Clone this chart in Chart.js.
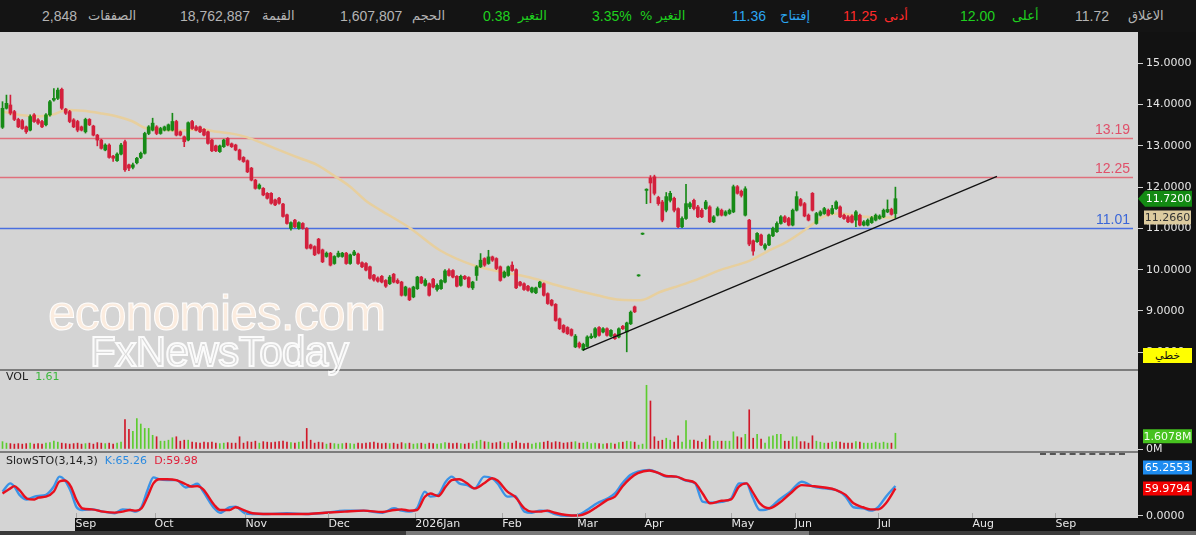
<!DOCTYPE html>
<html><head><meta charset="utf-8">
<script src="https://cdn.jsdelivr.net/npm/chart.js@4.4.1/dist/chart.umd.min.js"></script>
<style>
html,body{margin:0;padding:0;}
body{width:1196px;height:535px;overflow:hidden;position:relative;background:#121212;font-family:"Liberation Sans","DejaVu Sans",sans-serif;}
#hdr{position:absolute;left:0;top:0;width:1196px;height:32px;background:#141414;}
#hdr span{position:absolute;top:8px;font-size:14px;white-space:nowrap;line-height:16px;}
#hdr span.ar{font-size:13px;font-family:"DejaVu Sans",sans-serif;top:8px;}
.g{color:#1fd01f}.r{color:#ff2a2a}.b{color:#2ba6f2}.w{color:#b4b4b4}
canvas{position:absolute;left:0;}
.sep{position:absolute;left:0;width:1138px;height:2px;background:#7c7c7c;}
.lbl{position:absolute;left:6px;font:11px "DejaVu Sans",sans-serif;color:#222;white-space:nowrap;}
#wm1{position:absolute;left:48px;top:284px;font:50px "Liberation Sans",sans-serif;color:rgba(255,238,224,0.9);-webkit-text-stroke:1px rgba(255,255,255,0.95);letter-spacing:-1px;white-space:nowrap;}
#wm2{position:absolute;left:90px;top:328px;font:42px "Liberation Sans",sans-serif;color:rgba(255,255,255,0.12);-webkit-text-stroke:2px rgba(255,255,255,0.9);letter-spacing:-0.5px;white-space:nowrap;}
#btn{position:absolute;left:1143px;top:348px;width:49px;height:15px;background:#ffff00;color:#111;font:11px "DejaVu Sans",sans-serif;text-align:center;line-height:15px;}
#dash{position:absolute;left:1040px;top:453px;width:85px;height:0;border-top:2px dashed #555;}
#bot{position:absolute;left:0;top:531px;width:1196px;height:4px;background:#3a3a3a;}
#thumb{position:absolute;left:406px;top:531px;width:403px;height:4px;background:#7a7a7a;}
#thumb2{position:absolute;left:1080px;top:531px;width:116px;height:4px;background:#6a6a6a;}
</style></head><body>
<div id="hdr">
<span class="w" style="left:42px">2,848</span>
<span class="w ar" style="left:88px" dir="rtl">الصفقات</span>
<span class="w" style="left:180px">18,762,887</span>
<span class="w ar" style="left:262px" dir="rtl">القيمة</span>
<span class="w" style="left:340px">1,607,807</span>
<span class="w ar" style="left:412px" dir="rtl">الحجم</span>
<span class="g" style="left:483px">0.38</span>
<span class="g ar" style="left:518px" dir="rtl">التغير</span>
<span class="g" style="left:592px">3.35%</span>
<span class="g ar" style="left:640px" dir="rtl">التغير %</span>
<span class="b" style="left:732px">11.36</span>
<span class="b ar" style="left:780px" dir="rtl">إفتتاح</span>
<span class="r" style="left:843px">11.25</span>
<span class="r ar" style="left:884px" dir="rtl">أدنى</span>
<span class="g" style="left:960px">12.00</span>
<span class="g ar" style="left:1012px" dir="rtl">أعلى</span>
<span class="w" style="left:1075px">11.72</span>
<span class="w ar" style="left:1128px" dir="rtl">الاغلاق</span>
</div>
<canvas id="cPrice" width="1196" height="338" style="top:32px"></canvas>
<canvas id="cVol" width="1196" height="82" style="top:370px"></canvas>
<canvas id="cSto" width="1196" height="79" style="top:452px"></canvas>
<div class="sep" style="top:369px"></div>
<div class="sep" style="top:451px"></div>
<div class="lbl" style="top:370px">VOL&nbsp;&nbsp;<span style="color:#3cb83c">1.61</span></div>
<div class="lbl" style="top:454px">SlowSTO(3,14,3)&nbsp;&nbsp;<span style="color:#2a8ae0">K:65.26</span>&nbsp;&nbsp;<span style="color:#e0203a">D:59.98</span></div>
<div id="wm1">economies.com</div>
<div id="wm2">FxNewsToday</div>
<div id="btn">خطي</div>
<div id="dash"></div>
<div id="bot"></div><div id="thumb"></div><div id="thumb2"></div>
<script>
// ---------------- data ----------------
const open = [13.45,13.91,13.99,13.83,13.64,13.61,13.46,13.38,13.75,13.63,13.59,13.51,13.75,14.11,14.15,14.37,13.89,13.83,13.63,13.59,13.46,13.34,13.64,13.48,13.26,13.14,12.90,13.02,12.75,12.64,12.80,13.10,12.54,12.48,12.59,12.72,12.82,13.30,13.38,13.46,13.30,13.38,13.38,13.38,13.59,13.34,13.22,13.14,13.59,13.46,13.46,13.40,13.34,13.14,13.00,12.86,12.98,13.18,13.05,13.02,12.90,12.72,12.64,12.46,12.17,11.97,11.97,11.85,11.85,11.69,11.73,11.59,11.33,11.00,11.20,11.00,11.12,11.00,10.60,10.56,10.74,10.48,10.32,10.40,10.15,10.32,10.32,10.40,10.15,10.36,10.38,10.17,10.15,10.07,9.87,9.80,9.84,9.74,9.66,9.89,9.74,9.70,9.38,9.54,9.34,9.54,9.82,9.62,9.66,9.77,9.52,9.54,9.70,9.98,9.98,9.84,9.62,9.84,9.81,9.56,9.86,10.07,10.27,10.15,10.31,10.27,10.07,9.82,9.86,10.11,10.00,9.70,9.66,9.60,9.46,9.44,9.58,9.66,9.42,9.26,9.16,8.81,8.65,8.60,8.55,8.13,8.22,8.06,8.14,8.35,8.37,8.60,8.49,8.57,8.39,8.43,8.37,8.63,8.49,8.69,9.10,9.85,10.86,11.92,12.22,12.25,11.75,11.64,11.44,11.68,11.73,11.48,11.04,11.24,11.52,11.68,11.52,11.44,11.48,11.52,11.16,11.32,11.44,11.32,11.36,11.40,12.01,11.90,11.32,11.20,10.70,10.68,10.84,10.52,10.60,10.82,10.92,11.12,11.28,11.24,11.08,11.44,11.70,11.60,11.32,11.85,11.12,11.32,11.36,11.44,11.36,11.48,11.52,11.32,11.28,11.30,11.20,11.32,11.08,11.08,11.14,11.20,11.24,11.28,11.40,11.46,11.36];
const high = [14.07,14.23,14.23,13.86,13.67,13.64,13.48,13.75,13.78,13.66,13.62,13.78,14.10,14.39,14.40,14.40,13.91,13.86,13.66,13.62,13.48,13.67,13.66,13.50,13.28,13.16,13.05,13.05,12.77,12.83,13.06,13.14,12.56,12.58,12.72,12.85,13.33,13.49,13.67,13.49,13.45,13.48,13.53,13.79,13.62,13.36,13.24,13.58,13.62,13.49,13.48,13.42,13.36,13.16,13.02,13.02,13.16,13.20,13.07,13.04,12.92,12.74,12.66,12.48,12.19,12.08,11.99,11.87,11.87,11.71,11.75,11.61,11.35,11.16,11.22,11.16,11.14,11.02,10.62,10.58,10.76,10.50,10.43,10.42,10.34,10.45,10.42,10.42,10.38,10.47,10.40,10.19,10.17,10.09,9.89,9.83,9.86,9.76,9.86,9.91,9.78,9.72,9.60,9.56,9.60,9.84,9.84,9.78,9.68,9.79,9.66,9.76,10.00,10.02,10.00,9.86,9.87,9.86,9.83,9.72,10.10,10.39,10.29,10.47,10.33,10.29,10.09,9.97,10.09,10.19,10.02,9.72,9.68,9.62,9.58,9.58,9.72,9.68,9.44,9.28,9.18,8.83,8.67,8.62,8.57,8.43,8.25,8.22,8.40,8.45,8.60,8.62,8.60,8.59,8.55,8.45,8.59,8.65,8.73,9.00,9.12,9.88,10.89,11.96,12.28,12.29,11.78,11.68,11.87,11.90,11.76,11.50,11.28,12.07,11.64,11.71,11.56,11.48,11.68,11.55,11.31,11.52,11.47,11.43,11.47,12.05,12.04,11.93,12.01,11.22,10.72,10.90,10.86,10.63,10.86,11.03,11.16,11.31,11.31,11.27,11.47,11.89,11.73,11.63,11.35,11.87,11.39,11.43,11.51,11.47,11.56,11.67,11.55,11.35,11.31,11.33,11.43,11.35,11.19,11.23,11.29,11.35,11.33,11.47,11.69,11.49,12.00];
const low = [13.42,13.89,13.75,13.61,13.44,13.40,13.30,13.36,13.57,13.52,13.44,13.48,13.72,14.08,14.12,13.88,13.76,13.56,13.44,13.34,13.36,13.31,13.49,13.24,13.00,12.92,12.88,12.70,12.62,12.62,12.78,12.38,12.40,12.44,12.56,12.69,12.80,13.27,13.36,13.27,13.28,13.36,13.36,13.36,13.24,13.24,12.98,13.12,13.40,13.36,13.32,13.24,13.04,12.86,12.86,12.84,12.96,13.00,12.96,12.88,12.65,12.60,12.35,12.15,11.95,11.95,11.79,11.71,11.59,11.55,11.59,11.27,11.10,10.96,11.02,10.98,10.98,10.50,10.50,10.34,10.38,10.17,10.30,10.09,10.13,10.30,10.30,10.13,10.13,10.34,10.13,10.05,9.97,9.77,9.72,9.70,9.68,9.57,9.64,9.68,9.66,9.36,9.36,9.25,9.32,9.52,9.66,9.60,9.36,9.56,9.48,9.52,9.68,9.84,9.80,9.58,9.60,9.76,9.56,9.52,9.74,10.05,10.08,10.13,10.20,10.00,9.72,9.80,9.84,9.96,9.54,9.60,9.50,9.48,9.44,9.42,9.56,9.36,9.16,9.12,8.75,8.55,8.47,8.43,8.39,8.11,8.10,8.04,8.12,8.33,8.35,8.39,8.47,8.39,8.37,8.31,8.35,8.55,8.01,8.67,8.96,9.84,10.85,11.60,11.62,11.81,11.56,11.16,11.40,11.64,11.40,11.02,11.02,11.22,11.48,11.45,11.26,11.26,11.46,11.14,11.14,11.30,11.30,11.30,11.34,11.38,11.83,11.76,11.30,10.58,10.35,10.66,10.58,10.48,10.58,10.80,10.90,11.10,11.14,11.06,11.06,11.42,11.54,11.28,11.18,11.42,11.10,11.30,11.34,11.30,11.34,11.46,11.26,11.22,11.14,11.13,11.04,11.06,11.06,11.06,11.12,11.18,11.22,11.26,11.38,11.32,11.25];
const close = [13.91,14.03,13.79,13.64,13.46,13.42,13.34,13.71,13.59,13.55,13.46,13.75,14.07,14.15,14.35,13.91,13.79,13.59,13.46,13.38,13.38,13.64,13.51,13.26,13.14,12.94,13.02,12.72,12.70,12.80,13.02,12.42,12.46,12.54,12.70,12.82,13.30,13.46,13.55,13.30,13.42,13.46,13.51,13.59,13.26,13.26,13.10,13.56,13.42,13.38,13.34,13.26,13.06,12.88,12.88,13.00,13.14,13.02,12.98,12.90,12.67,12.62,12.37,12.17,11.97,12.05,11.81,11.73,11.61,11.57,11.61,11.29,11.12,11.14,11.04,11.14,11.00,10.52,10.52,10.36,10.40,10.19,10.40,10.11,10.32,10.40,10.40,10.15,10.36,10.43,10.15,10.07,9.99,9.79,9.75,9.72,9.70,9.60,9.82,9.70,9.68,9.38,9.58,9.27,9.58,9.82,9.68,9.74,9.38,9.58,9.62,9.74,9.97,9.86,9.82,9.60,9.84,9.78,9.58,9.70,10.07,10.23,10.11,10.31,10.23,10.03,9.74,9.94,10.07,9.98,9.56,9.62,9.52,9.50,9.56,9.56,9.70,9.38,9.18,9.14,8.77,8.57,8.49,8.45,8.41,8.39,8.13,8.19,8.37,8.39,8.57,8.41,8.57,8.41,8.53,8.33,8.57,8.57,8.71,8.97,8.98,9.87,10.88,11.95,12.10,11.85,11.60,11.20,11.77,11.85,11.44,11.04,11.24,11.60,11.60,11.48,11.28,11.28,11.64,11.16,11.28,11.48,11.32,11.40,11.44,12.01,11.85,11.80,11.96,10.62,10.45,10.88,10.60,10.60,10.84,11.00,11.12,11.28,11.16,11.08,11.44,11.77,11.56,11.30,11.20,11.44,11.36,11.40,11.48,11.32,11.48,11.64,11.28,11.24,11.16,11.15,11.40,11.08,11.16,11.20,11.26,11.32,11.30,11.44,11.46,11.34,11.72];
const volume = [0.75,0.6,0.55,0.5,0.55,0.5,0.55,0.6,0.5,0.55,0.5,0.6,0.65,0.8,0.7,0.6,0.55,0.5,0.55,0.6,0.5,0.55,0.6,0.5,0.65,0.6,0.55,0.6,0.5,0.6,0.7,
 3.0,2.0,1.8,3.1,2.55,2.1,2.1,1.4,1.25,0.8,0.8,0.9,1.15,1.25,0.8,0.9,0.9,
 0.7,0.65,0.6,0.7,0.65,0.7,0.6,0.55,0.6,0.65,0.6,0.6,1.25,
 0.6,0.75,0.7,0.8,0.6,0.75,0.7,0.65,0.7,0.75,0.8,0.7,0.65,0.6,0.7,0.75,2.1,0.9,
 0.6,0.7,0.65,0.5,0.6,0.55,0.5,0.55,0.6,0.55,0.5,0.6,0.55,0.6,0.65,0.7,0.6,0.55,0.6,0.55,0.6,0.5,0.65,0.55,0.6,0.5,0.55,0.6,0.5,0.6,0.55,0.5,0.55,0.65,0.6,0.55,0.6,0.55,0.5,0.6,0.55,0.8,0.9,0.75,0.7,0.6,0.65,0.75,0.6,0.65,0.6,0.8,0.6,0.55,0.6,0.5,0.6,0.65,0.7,0.8,0.65,0.75,0.7,0.6,0.65,0.7,0.75,0.6,0.6,0.7,0.55,0.6,0.55,0.5,0.55,0.6,0.5,0.65,0.7,0.8,0.75,0.7,0.4,0.5,
 6.5,4.9,1.25,0.8,0.9,1.1,0.9,0.7,1.35,0.7,2.9,0.9,0.9,0.8,0.7,1.0,1.35,0.8,0.8,0.8,0.8,0.8,1.75,1.25,1.15,1.5,4.0,1.1,1.5,1.0,0.6,1.25,1.35,1.5,1.5,0.8,0.8,1.25,1.25,0.75,0.75,0.6,1.35,0.8,0.7,0.6,0.6,0.7,0.75,0.7,0.6,0.6,0.6,0.75,0.7,0.6,0.6,0.6,0.7,0.6,0.7,0.6,0.6,1.6078];
const maIdx = [0,4.4,9.5,12.8,16.3,20.4,24.7,29,33,36.5,40,43.2,46.7,50,54.3,58.4,61.8,66.9,71,75.3,79.6,83.7,88,92.2,95.5,103.1,110.7,119.1,125.1,133.5,141.9,150.5,156.3,161.4,166.4,171.5,176.5,181.6,189.2,193.5,198.6,203.6,207.7,212,216.3,220.3,226];
const maVal = [13.83,13.75,13.72,13.76,13.87,13.85,13.79,13.71,13.59,13.42,13.40,13.37,13.38,13.40,13.34,13.29,13.21,13.02,12.86,12.70,12.54,12.29,12.01,11.65,11.45,11.01,10.47,10.11,9.97,9.81,9.58,9.38,9.27,9.26,9.46,9.62,9.79,9.99,10.22,10.44,10.68,11.00,11.28,11.36,11.30,11.27,11.266];
const stIdx = [0,2,3,4.3,6.2,8.1,9.1,11,13,14.4,15.8,17.3,18.7,20.2,22.6,25.5,28.4,30.4,32.3,33.8,35.2,36.7,38.2,39.6,41.6,44,46.4,47.8,49.3,50.8,53.6,55.1,57.5,59,61.4,63.3,67.2,72,76.8,81.7,86.6,91.4,96.2,99.1,101,103,104.9,106.9,108.3,110.3,112.2,113.7,115.6,117.6,119.5,121.9,123.9,125.3,127.8,129.7,132.1,134,136,137.9,139.8,142.7,145.6,148.6,150.5,153.1,155,156.9,158.9,160.8,163.7,166.1,168,170.5,172.9,175.3,177.2,179.1,182,184.4,186.4,188.3,189.8,191.7,194.1,196.5,199.4,202.3,205.2,208.1,211,213.4,215.4,217.8,219.7,221.7,223.6,226];
const stK = [53,71,64,46,36,42,43.5,46,64,85.5,77,53,20,13,14.5,9.5,6,14.5,13,9.5,20,56,84,80,78,78,62,65,70,53,16.7,7,19,20,6,4.4,4.4,6,4.4,7,11.6,11.6,7,16.7,11.6,9.5,16.7,53,42,46,74.5,85.5,71,67,60,85.5,82,71,42,43.5,9.5,7,11.6,10.9,4.4,0.5,2,16.7,27.6,38,49,71,89,96.4,100,93,85.5,85.5,77,71,31,29,31,38,71,71,42,13,16.7,34.8,53,74.5,64,60,56.5,42,19,16.7,11.6,20,42,65.26];
const stD = [49,60,65,56,38,36,40,42,53,75,77,64,35,16.7,14.5,9.5,7.3,9.5,13,11.6,16.7,42,71,80,80,78,69,64,65,58,24,13,13,19,11.6,6,4.4,4.4,4.4,7,9.5,11.6,8.7,13,14.5,11.6,13,42,49,43.5,64,78,80,71,60,71,82,77,53,42,16.7,9.5,9.5,11.6,7,2.2,1,9.5,20,35,42,64,82,93,99,93,87,85.5,78,72,49,27.6,33,36,64,71,53,27.6,16.7,27.6,49,67,65,62,56.5,46,27.6,19,14.5,14.5,27.6,59.98];
const levels = [13.19, 12.25, 11.01];
const trendIdx = [146.9, 251.7];
const trendVal = [8.05, 12.26];
const priceTicks = [8,9,10,11,12,13,14,15];
const monthTicks = [18.5,38.5,61.5,82.5,104.5,126.5,145.5,162.5,184.5,200.5,221.5,245.5,266.5];
const monthLabels = ['Sep','Oct','Nov','Dec','2026Jan','Feb','Mar','Apr','May','Jun','Jul','Aug','Sep'];
const maLast = 11.266;

// ---------------- helpers ----------------
const X_MIN = -0.633, X_MAX = 287.4;
const UP = '#178a17', DN = '#d3203c';
const VUP = '#5ccc2e', VDN = '#d01828';
const idx = close.map((_, i) => i);
const isUp = i => close[i] >= open[i];
const AXW = 58;
const FONT = '"DejaVu Sans", sans-serif';

function fitY(s){ s.width = AXW; s.paddingTop = 0; s.paddingBottom = 0; }
function fitXHidden(s){ s.height = 0; s.paddingLeft = 0; s.paddingRight = 0; }

const bgPlugin = {
  id: 'bg',
  beforeDraw(chart, args, opts){
    const {ctx, chartArea: a, width, height} = chart;
    ctx.save();
    ctx.fillStyle = '#121212';
    ctx.fillRect(0, 0, width, height);
    ctx.fillStyle = '#d4d4d4';
    ctx.fillRect(a.left, a.top, a.right - a.left, a.bottom - a.top);
    if (opts && opts.leftGap) ctx.fillRect(0, a.bottom, opts.leftGap, height - a.bottom);
    ctx.restore();
  }
};

function tag(ctx, x, y, w, text, bg, fg, arrow){
  ctx.save();
  ctx.fillStyle = bg;
  ctx.beginPath();
  if (arrow){
    ctx.moveTo(x - 3, y); ctx.lineTo(x + 4, y - 8); ctx.lineTo(x + w, y - 8);
    ctx.lineTo(x + w, y + 8); ctx.lineTo(x + 4, y + 8); ctx.closePath();
  } else {
    ctx.rect(x, y - 7, w, 14);
  }
  ctx.fill();
  ctx.fillStyle = fg;
  ctx.font = '11px ' + FONT;
  ctx.textAlign = 'center'; ctx.textBaseline = 'middle';
  ctx.fillText(text, x + w / 2 + (arrow ? 2 : 0), y + 0.5);
  ctx.restore();
}

const levelPlugin = {
  id: 'levels',
  beforeDatasetsDraw(chart){
    const {ctx, chartArea: a, scales: {y}} = chart;
    const lineCol = ['#e0707c', '#e0707c', '#4a6fe0'];
    const txtCol = ['#e0506a', '#e0506a', '#3a66d8'];
    ctx.save();
    levels.forEach((lv, k) => {
      const py = Math.round(y.getPixelForValue(lv)) + 0.5;
      ctx.strokeStyle = lineCol[k]; ctx.lineWidth = 1.3;
      ctx.beginPath(); ctx.moveTo(a.left, py); ctx.lineTo(a.right - 5, py); ctx.stroke();
      ctx.fillStyle = txtCol[k];
      ctx.font = '14px "Liberation Sans", sans-serif';
      ctx.textAlign = 'right'; ctx.textBaseline = 'alphabetic';
      ctx.fillText(lv.toFixed(2), a.right - 8, py - 5);
    });
    ctx.restore();
  },
  afterDraw(chart){
    const {ctx, chartArea: a, scales: {y}} = chart;
    const last = close[close.length - 1];
    tag(ctx, a.right + 3, y.getPixelForValue(last), 51, last.toFixed(4), '#138a13', '#ffffff', true);
    tag(ctx, a.right + 6, y.getPixelForValue(maLast), 47, maLast.toFixed(4), '#dccb9f', '#333333', false);
  }
};

// ---------------- price chart ----------------
new Chart(document.getElementById('cPrice'), {
  type: 'bar',
  data: { datasets: [
    { type: 'line', label: 'MA', data: maIdx.map((x, k) => ({x, y: maVal[k]})),
      borderColor: '#e7cf9e', borderWidth: 2.5, pointRadius: 0, cubicInterpolationMode: 'monotone', order: 3 },
    { label: 'wick', data: idx.map(i => ({x: i, y: [low[i], high[i]]})),
      backgroundColor: c => isUp(c.dataIndex) ? UP : DN, barThickness: 1, grouped: false, order: 2, borderWidth: 0 },
    { label: 'body', data: idx.map(i => ({x: i, y: [Math.min(open[i], close[i]), Math.max(open[i], close[i])]})),
      backgroundColor: c => isUp(c.dataIndex) ? UP : DN, barThickness: 3, grouped: false, minBarLength: 1, order: 1, borderWidth: 0 },
    { type: 'line', label: 'trend', data: trendIdx.map((x, k) => ({x, y: trendVal[k]})),
      borderColor: '#111111', borderWidth: 1.3, pointRadius: 0, order: 0 }
  ]},
  options: {
    responsive: false, animation: false, events: [],
    layout: { padding: 0 },
    plugins: { legend: { display: false }, tooltip: { enabled: false } },
    scales: {
      x: { type: 'linear', min: X_MIN, max: X_MAX, offset: false, display: false, afterFit: fitXHidden },
      y: { type: 'linear', position: 'right', min: 7.570, max: 15.758,
        afterBuildTicks: s => { s.ticks = priceTicks.map(v => ({value: v})); },
        afterFit: fitY,
        ticks: { callback: v => Number(v).toFixed(4), color: '#e6e6e6', font: { family: 'DejaVu Sans', size: 11 }, padding: 3, autoSkip: false },
        grid: { drawOnChartArea: false, drawTicks: true, tickLength: 5, color: '#d0d0d0' },
        border: { display: false } }
    }
  },
  plugins: [bgPlugin, levelPlugin]
});

// ---------------- volume chart ----------------
new Chart(document.getElementById('cVol'), {
  type: 'bar',
  data: { datasets: [
    { label: 'VOL', data: idx.map(i => ({x: i, y: volume[i]})),
      backgroundColor: c => isUp(c.dataIndex) ? VUP : VDN, barThickness: 1, grouped: false, borderWidth: 0 }
  ]},
  options: {
    responsive: false, animation: false, events: [],
    layout: { padding: 0 },
    plugins: { legend: { display: false }, tooltip: { enabled: false } },
    scales: {
      x: { type: 'linear', min: X_MIN, max: X_MAX, offset: false, display: false, afterFit: fitXHidden },
      y: { type: 'linear', position: 'right', min: -0.306, max: 8.06,
        afterBuildTicks: s => { s.ticks = [{value: 0}]; },
        afterFit: fitY,
        ticks: { callback: v => v + 'M', color: '#e6e6e6', font: { family: 'DejaVu Sans', size: 11 }, padding: 3, autoSkip: false },
        grid: { drawOnChartArea: false, drawTicks: true, tickLength: 5, color: '#d0d0d0' },
        border: { display: false } }
    }
  },
  plugins: [bgPlugin, {
    id: 'vtag',
    afterDraw(chart){
      const {ctx, chartArea: a, scales: {y}} = chart;
      const v = volume[volume.length - 1];
      tag(ctx, a.right + 5, y.getPixelForValue(v) + 3, 49, v.toFixed(4) + 'M', '#46c21f', '#f4fff0', false);
    }
  }]
});

// ---------------- stochastic chart ----------------
new Chart(document.getElementById('cSto'), {
  type: 'line',
  data: { datasets: [
    { label: 'K', data: stIdx.map((x, k) => ({x, y: stK[k]})), borderColor: '#3b93e6', borderWidth: 2.4, pointRadius: 0, cubicInterpolationMode: 'monotone', order: 1 },
    { label: 'D', data: stIdx.map((x, k) => ({x, y: stD[k]})), borderColor: '#e8101e', borderWidth: 2.4, pointRadius: 0, cubicInterpolationMode: 'monotone', order: 0 }
  ]},
  options: {
    responsive: false, animation: false, events: [],
    layout: { padding: 0 },
    plugins: { legend: { display: false }, tooltip: { enabled: false }, bg: { leftGap: 75 } },
    scales: {
      x: { type: 'linear', min: X_MIN, max: X_MAX, offset: false,
        afterBuildTicks: s => { s.ticks = monthTicks.map(v => ({value: v})); },
        afterFit: s => { s.height = 13; s.paddingLeft = 0; s.paddingRight = 0; },
        ticks: { callback: (v, i) => monthLabels[i], align: 'start', color: '#e6e6e6', font: { family: 'DejaVu Sans', size: 11 }, padding: 0, autoSkip: false, maxRotation: 0 },
        grid: { drawOnChartArea: false, drawTicks: false },
        border: { display: false } },
      y: { type: 'linear', position: 'right', min: -4.35, max: 139.1,
        afterBuildTicks: s => { s.ticks = [{value: 0}]; },
        afterFit: fitY,
        ticks: { callback: v => Number(v).toFixed(4), color: '#e6e6e6', font: { family: 'DejaVu Sans', size: 11 }, padding: 3, autoSkip: false },
        grid: { drawOnChartArea: false, drawTicks: true, tickLength: 5, color: '#d0d0d0' },
        border: { display: false } }
    }
  },
  plugins: [bgPlugin, {
    id: 'stx',
    afterDatasetsDraw(chart){
      const {ctx, chartArea: a, scales: {x}} = chart;
      ctx.save();
      ctx.strokeStyle = '#a8a8a8'; ctx.lineWidth = 1;
      x.ticks.forEach(t => {
        const px = Math.round(x.getPixelForValue(t.value)) + 0.5;
        ctx.beginPath(); ctx.moveTo(px, a.bottom - 5); ctx.lineTo(px, a.bottom); ctx.stroke();
      });
      ctx.restore();
    },
    afterDraw(chart){
      const {ctx, chartArea: a, scales: {y}} = chart;
      const k = stK[stK.length - 1], d = stD[stD.length - 1];
      const dy = y.getPixelForValue(d);
      const ky = Math.min(y.getPixelForValue(k), dy - 21);
      tag(ctx, a.right + 5, ky, 49, '65.2553', '#1e8cf0', '#ffffff', false);
      tag(ctx, a.right + 5, dy, 49, '59.9794', '#f00000', '#ffffff', false);
    }
  }]
});
</script>
</body></html>
